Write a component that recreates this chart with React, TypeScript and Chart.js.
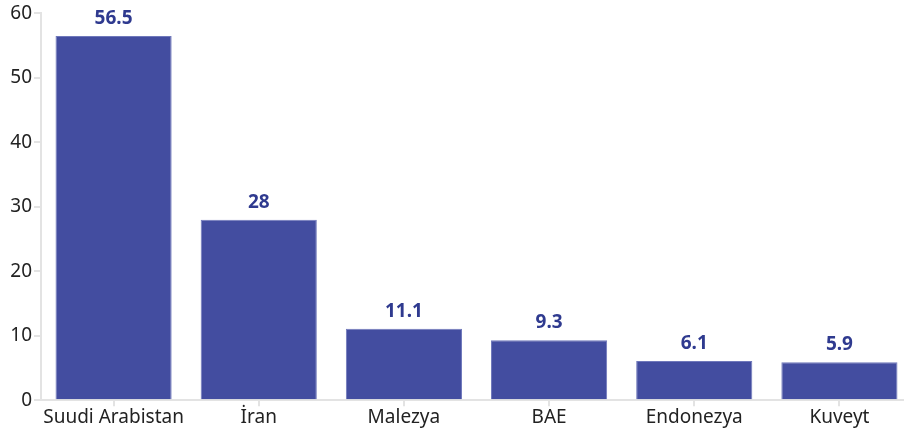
import React, { useEffect, useRef } from "react";
import { Chart, registerables } from "chart.js";

Chart.register(...registerables);

const categories = ["Suudi Arabistan", "İran", "Malezya", "BAE", "Endonezya", "Kuveyt"];
const values = [56.5, 28, 11.1, 9.3, 6.1, 5.9];
const yTicks = [0, 10, 20, 30, 40, 50, 60];

const FONT = "'Source Sans Pro', 'Noto Sans', sans-serif";

const labelPlugin = {
  id: "barLabels",
  afterDatasetsDraw(chart: any) {
    const ctx = chart.ctx;
    const meta = chart.getDatasetMeta(0);
    ctx.save();
    ctx.font = `bold 19px ${FONT}`;
    ctx.fillStyle = "#2f3a8f";
    ctx.textAlign = "center";
    ctx.textBaseline = "bottom";
    meta.data.forEach((el: any, i: number) => {
      ctx.fillText(String(values[i]), el.x, el.y - 8);
    });
    ctx.restore();
  },
};

export default function App() {
  const ref = useRef<HTMLCanvasElement>(null);
  useEffect(() => {
    const chart = new Chart(ref.current!, {
      type: "bar",
      data: {
        labels: categories,
        datasets: [
          {
            data: values,
            backgroundColor: "#434da0",
            borderColor: "#6f78bb",
            borderWidth: 1,
            barPercentage: 0.8,
            categoryPercentage: 1,
          },
        ],
      },
      options: {
        animation: false,
        responsive: false,
        layout: { padding: { top: 8, right: 0, left: 0, bottom: 11 } },
        plugins: { legend: { display: false }, tooltip: { enabled: false } },
        scales: {
          x: {
            grid: {
              display: true,
              drawOnChartArea: false,
              offset: false,
              color: "#e3e3e3",
              tickLength: 6,
              lineWidth: 2,
            },
            border: { color: "#e3e3e3", width: 2 },
            ticks: {
              color: "#222",
              font: { family: FONT, size: 19 },
              padding: 0,
              maxRotation: 0,
              minRotation: 0,
              autoSkip: false,
            },
          },
          y: {
            min: 0,
            max: 60,
            afterFit(scale: any) {
              scale.width = 41;
            },
            afterBuildTicks(scale: any) {
              scale.ticks = yTicks.map((v) => ({ value: v }));
            },
            grid: {
              display: true,
              drawOnChartArea: false,
              color: "#e3e3e3",
              tickLength: 7,
              lineWidth: 2,
            },
            border: { color: "#e3e3e3", width: 2 },
            ticks: { color: "#222", font: { family: FONT, size: 19 }, padding: 2 },
          },
        },
      },
      plugins: [labelPlugin],
    });
    return () => chart.destroy();
  }, []);
  return (
    <div style={{ position: "absolute", left: 0, top: 0, width: 904, height: 440, overflow: "hidden" }}>
      <canvas ref={ref} width={912} height={440} style={{ width: 912, height: 440 }} />
    </div>
  );
}
